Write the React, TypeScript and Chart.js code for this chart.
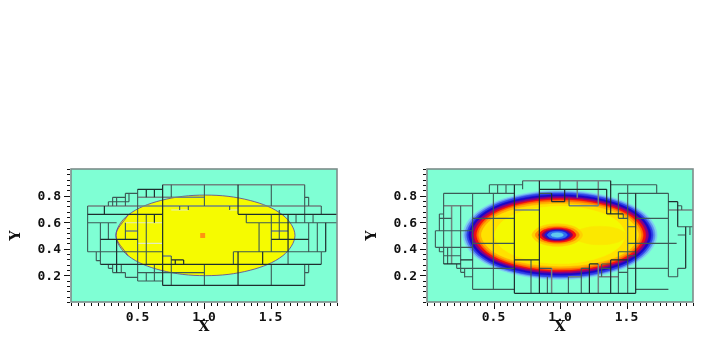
import React, { useEffect, useRef } from "react";
import { Chart, registerables } from "chart.js";

Chart.register(...registerables);

// Horizontal cell edges are [y, x0, x1]; vertical ones are [x, y0, y1].
const leftDarkH = [[.847,.501,.689],[.659,.125,.689],[.659,1.256,2],[.471,.221,.501],[.283,.221,1.882],[.125,.689,1.757],[.471,1.506,1.787],[.316,.754,.847]];
const leftDarkV = [[.689,.882,.125],[.566,.847,.787],[.627,.847,.787],[1.256,.882,.659],[1.256,.378,.125],[.343,.471,.221],[.251,.722,.659],[.627,.659,.596],[1.915,.596,.378],[1.632,.659,.378],[1.441,.378,.283],[.784,.316,.283],[.847,.316,.283]];
const leftMidH = [[.817,.409,.501],[.787,.313,.409],[.754,.281,.436],[.596,.125,.343],[.596,1.318,2],[.378,.125,.689],[.378,1.221,1.915],[.311,.19,.221],[.253,.281,.313],[.221,.313,.409],[.185,.409,.501],[.221,.501,1.003],[.158,.501,.689],[.221,1.757,1.787],[.787,1.757,1.787]];
const leftMidV = [[.754,.882,.787],[.754,.346,.125],[1.003,.882,.722],[1.003,.283,.125],[1.506,.882,.722],[1.506,.659,.378],[1.506,.283,.125],[1.757,.882,.722],[1.757,.283,.125],[1.757,.722,.596],[.501,.847,.283],[.501,.283,.158],[.409,.817,.722],[.436,.817,.754],[.313,.787,.722],[.343,.787,.722],[.281,.754,.722],[.125,.722,.378],[.221,.596,.283],[.281,.596,.471],[.409,.596,.471],[.566,.659,.283],[.566,.221,.158],[.627,.283,.158],[.19,.378,.311],[.378,.283,.221],[.313,.283,.221],[.281,.283,.253],[.409,.221,.185],[.817,.722,.692],[.882,.722,.692],[1.193,.722,.692],[1.318,.659,.596],[1.414,.596,.378],[1.566,.692,.471],[1.692,.659,.596],[1.82,.659,.596],[1.787,.596,.378],[1.852,.596,.378],[1.221,.378,.283],[1.632,.378,.283],[1.882,.722,.659],[1.882,.378,.283],[1.787,.787,.722],[1.787,.283,.221]];
const leftGrayH = [[.882,.689,1.757],[.722,.125,1.882],[.787,.501,1.003],[.534,.409,.501],[.534,1.506,1.632],[.346,.689,.754]];
const leftGrayV = [];
const leftPaleH = [[.692,.754,.882],[.692,1.193,1.256],[.596,.409,.689],[.441,.501,.689]];
const leftPaleV = [];

const rightDarkH = [[.065,.657,1.569],[.316,.657,.845],[.847,.845,1.351],[.754,.937,1.035],[.286,.125,.253],[.316,.253,.343],[.286,1.221,1.288],[.662,1.351,1.476],[.316,1.381,1.509],[.754,1.815,1.885]];
const rightDarkV = [[.657,.882,.065],[.845,.912,.065],[.937,.817,.754],[1.035,.847,.754],[1.351,.847,.662],[1.381,.912,.662],[1.569,.817,.065],[1.221,.286,.065],[1.381,.316,.065],[1.945,.566,.253],[1.885,.754,.566]];
const rightMidH = [[.882,.469,.719],[.882,1.381,1.727],[.817,.125,.657],[.817,1.439,1.815],[.817,.845,.937],[.662,.093,.125],[.629,.093,.185],[.629,.343,.657],[.629,1.569,1.815],[.536,.063,.343],[.411,.063,.343],[.441,.343,.657],[.441,1.509,1.877],[.378,.093,.125],[.348,.125,.253],[.253,.223,.657],[.223,.253,.283],[.19,.283,.343],[.095,.343,.657],[.253,.845,.937],[.253,1.16,1.221],[.286,1.313,1.381],[.253,1.313,1.381],[.223,1.439,1.509],[.378,1.439,1.569],[.348,1.509,1.569],[.253,1.509,1.815],[.095,1.569,1.815],[.19,1.815,1.885],[.253,1.885,1.945],[.724,1.885,1.915],[.566,1.885,2],[.504,1.885,1.94],[.629,1.439,1.509],[.566,1.509,1.569]];
const rightMidV = [[.469,.882,.817],[.531,.882,.817],[.594,.882,.817],[.719,.912,.847],[.125,.817,.286],[.093,.662,.536],[.155,.411,.286],[.253,.724,.223],[.063,.536,.411],[.093,.411,.378],[.223,.286,.253],[.283,.253,.185],[.343,.817,.095],[.499,.817,.095],[.782,.316,.065],[.905,.19,.065],[1.063,.19,.065],[1.16,.253,.065],[1.313,.286,.19],[1.439,.378,.065],[1.439,.817,.629],[1.509,.882,.065],[1.727,.882,.817],[1.815,.817,.19],[1.885,.253,.19],[1.068,.784,.724],[1,.912,.847],[1.915,.724,.692],[1.977,.566,.504],[1.476,.662,.629]];
const rightGrayH = [[.912,.719,1.381],[.724,.125,.343],[.724,1.068,1.288],[.692,.657,.845],[.692,1.815,2],[.19,1.288,1.439],[.19,1.063,1.16]];
const rightGrayV = [[.185,.724,.286],[.937,.253,.065],[1.13,.912,.784],[1.288,.912,.724],[1.288,.286,.065]];
const rightPaleH = [];
const rightPaleV = [];

const leftOutlineX = [.338,.428,.674,1.011,1.348,1.594,1.684,1.594,1.348,1.011,.674,.428,.338];
const leftOutlineY = [.501,.653,.763,.804,.763,.653,.501,.349,.239,.198,.239,.349,.501];
const leftSpotX = [.99];
const leftSpotY = [.5];

const contourColors = ["#7fd0f0","#5f8ff0","#2f40e8","#1808c8","#8a0080","#f01010","#ff7000","#ffb000","#ffe200","#f4fa00","#fbe800","#ffd000","#ff9000","#f81010","#8a0060","#1818d8","#3070f0","#60c8f0"];
const contourX = [
  [.27,.368,.635,1,1.365,1.632,1.73,1.632,1.365,1,.635,.368,.27],
  [.285,.381,.642,1,1.358,1.619,1.715,1.619,1.358,1,.642,.381,.285],
  [.3,.394,.65,1,1.35,1.606,1.7,1.606,1.35,1,.65,.394,.3],
  [.315,.407,.657,1,1.343,1.593,1.685,1.593,1.343,1,.657,.407,.315],
  [.335,.424,.667,1,1.333,1.576,1.665,1.576,1.333,1,.667,.424,.335],
  [.355,.441,.677,1,1.323,1.559,1.645,1.559,1.323,1,.677,.441,.355],
  [.375,.459,.687,1,1.313,1.541,1.625,1.541,1.313,1,.687,.459,.375],
  [.39,.472,.695,1,1.305,1.528,1.61,1.528,1.305,1,.695,.472,.39],
  [.41,.489,.705,1,1.295,1.511,1.59,1.511,1.295,1,.705,.489,.41],
  [.51,.576,.755,1,1.245,1.424,1.49,1.424,1.245,1,.755,.576,.51],
  [1.1,1.159,1.3,1.441,1.5,1.441,1.3,1.159,1.1],
  [.79,.846,.98,1.114,1.17,1.114,.98,.846,.79],
  [.815,.863,.98,1.097,1.145,1.097,.98,.863,.815],
  [.84,.881,.98,1.079,1.12,1.079,.98,.881,.84],
  [.865,.899,.98,1.061,1.095,1.061,.98,.899,.865],
  [.885,.913,.98,1.047,1.075,1.047,.98,.913,.885],
  [.905,.927,.98,1.033,1.055,1.033,.98,.927,.905],
  [.935,.948,.98,1.012,1.025,1.012,.98,.948,.935],
];
const contourY = [
  [.504,.672,.794,.839,.794,.672,.504,.336,.214,.169,.214,.336,.504],
  [.504,.667,.785,.829,.785,.667,.504,.341,.223,.179,.223,.341,.504],
  [.504,.662,.778,.82,.778,.662,.504,.346,.23,.188,.23,.346,.504],
  [.504,.656,.766,.807,.766,.656,.504,.352,.242,.201,.242,.352,.504],
  [.504,.648,.753,.792,.753,.648,.504,.36,.255,.216,.255,.36,.504],
  [.504,.641,.741,.778,.741,.641,.504,.367,.267,.23,.267,.367,.504],
  [.504,.635,.731,.766,.731,.635,.504,.373,.277,.242,.277,.373,.504],
  [.504,.629,.721,.754,.721,.629,.504,.379,.287,.254,.287,.379,.504],
  [.504,.622,.708,.739,.708,.622,.504,.386,.3,.269,.3,.386,.504],
  [.504,.612,.69,.719,.69,.612,.504,.396,.318,.289,.318,.396,.504],
  [.5,.549,.57,.549,.5,.451,.43,.451,.5],
  [.504,.564,.589,.564,.504,.444,.419,.444,.504],
  [.504,.552,.572,.552,.504,.456,.436,.456,.504],
  [.504,.543,.559,.543,.504,.465,.449,.465,.504],
  [.504,.536,.549,.536,.504,.472,.459,.472,.504],
  [.504,.53,.541,.53,.504,.478,.467,.478,.504],
  [.504,.524,.532,.524,.504,.484,.476,.484,.504],
  [.504,.516,.521,.516,.504,.492,.487,.492,.504],
];

const xLabelled = [0.5, 1.0, 1.5];
const yLabelled = [0.2, 0.4, 0.6, 0.8];
const xAxisTitle = "X";
const yAxisTitle = "Y";

const FIELD = "#7fffd4";
const TICK_FONT = { family: "'DejaVu Sans Mono'", size: 13, weight: "bold" as const };
const TITLE_FONT = { family: "'DejaVu Serif'", size: 14, weight: "bold" as const };

function edges(h: number[][], v: number[][]) {
  const pts: { x: number; y: number }[] = [];
  const gap = { x: NaN, y: NaN };
  h.forEach(([y, a, b]) => pts.push({ x: a, y }, { x: b, y }, gap));
  v.forEach(([x, a, b]) => pts.push({ x, y: a }, { x, y: b }, gap));
  return pts;
}

function edgeSet(h: number[][], v: number[][], color: string, width: number) {
  return {
    data: edges(h, v), showLine: true, borderColor: color, borderWidth: width,
    pointRadius: 0, fill: false, tension: 0, order: 0,
  };
}

function outline(xs: number[], ys: number[], color: string, order: number, border?: string) {
  // The loop overlaps itself by one point at each end so the spline has no kink at the join.
  const n = xs.length;
  const px = [xs[n - 2], ...xs, xs[1]];
  const py = [ys[n - 2], ...ys, ys[1]];
  return {
    data: px.map((x, i) => ({ x, y: py[i] })), showLine: true, fill: "shape", backgroundColor: color,
    borderColor: border ?? color, borderWidth: border ? 0.8 : 0.5, pointRadius: 0, tension: 0.35, order,
  };
}

const framePlugin = {
  id: "frame",
  beforeDatasetsDraw(chart: any) {
    const { ctx, chartArea: a } = chart;
    ctx.save();
    ctx.fillStyle = FIELD;
    ctx.fillRect(a.left, a.top, a.right - a.left, a.bottom - a.top);
    ctx.restore();
  },
  afterDraw(chart: any) {
    const { ctx, chartArea: a, scales } = chart;
    ctx.save();
    ctx.strokeStyle = "#7d8d8a";
    ctx.lineWidth = 1.6;
    ctx.strokeRect(a.left, a.top, a.right - a.left, a.bottom - a.top);
    ctx.strokeStyle = "#111";
    ctx.lineWidth = 1;
    ctx.beginPath();
    scales.x.ticks.forEach((t: any) => {
      const p = Math.round(scales.x.getPixelForValue(t.value)) + 0.5;
      const major = xLabelled.some((v) => Math.abs(v - t.value) < 1e-6);
      ctx.moveTo(p, a.bottom + 1);
      ctx.lineTo(p, a.bottom + (major ? 7 : 4));
    });
    scales.y.ticks.forEach((t: any) => {
      const p = Math.round(scales.y.getPixelForValue(t.value)) + 0.5;
      const major = yLabelled.some((v) => Math.abs(v - t.value) < 1e-6);
      ctx.moveTo(a.left - 1, p);
      ctx.lineTo(a.left - (major ? 7 : 4), p);
    });
    ctx.stroke();
    ctx.restore();
  },
};

function options() {
  return {
    responsive: false,
    animation: false as const,
    layout: { padding: { top: 169, right: 18, left: 8, bottom: 20 } },
    plugins: { legend: { display: false }, tooltip: { enabled: false } },
    scales: {
      x: {
        type: "linear" as const, min: 0, max: 2,
        grid: { display: false, drawTicks: false }, border: { display: false },
        afterFit: (s: any) => { s.height = 34; },
        title: { display: true, text: xAxisTitle, color: "#111", font: TITLE_FONT, padding: 0 },
        ticks: {
          stepSize: 0.05, autoSkip: false, maxRotation: 0, padding: 8, color: "#111", font: TICK_FONT,
          callback: (v: number) => (xLabelled.some((l) => Math.abs(l - v) < 1e-6) ? v.toFixed(1) : ""),
        },
      },
      y: {
        type: "linear" as const, min: 0, max: 1,
        grid: { display: false, drawTicks: false }, border: { display: false },
        afterFit: (s: any) => { s.width = 63; },
        title: { display: true, text: yAxisTitle, color: "#111", font: TITLE_FONT, padding: 0 },
        ticks: {
          stepSize: 0.04, autoSkip: false, padding: 10, labelOffset: 1, color: "#111", font: TICK_FONT,
          callback: (v: number) => (yLabelled.some((l) => Math.abs(l - v) < 1e-6) ? v.toFixed(1) : ""),
        },
      },
    },
  };
}

function Panel({ left, datasets }: { left: number; datasets: any[] }) {
  const ref = useRef<HTMLCanvasElement>(null);
  useEffect(() => {
    const chart = new Chart(ref.current as HTMLCanvasElement, {
      type: "scatter",
      data: { datasets },
      options: options() as any,
      plugins: [framePlugin],
    });
    return () => chart.destroy();
  }, []);
  return (
    <canvas ref={ref} width={355} height={356}
      style={{ position: "fixed", left, top: 0, width: 355, height: 356, display: "block" }} />
  );
}

const leftSets = [
  edgeSet(leftDarkH, leftDarkV, "#1e2e2e", 1.2),
  edgeSet(leftMidH, leftMidV, "#3c5a56", 1.1),
  edgeSet(leftGrayH, leftGrayV, "#6f8480", 1.5),
  edgeSet(leftPaleH, leftPaleV, "#e4ecc0", 1.1),
  {
    data: leftSpotX.map((x, i) => ({ x, y: leftSpotY[i] })), pointStyle: "rect", pointRadius: 3.5,
    backgroundColor: "#ff9410", borderWidth: 0, order: 1,
  },
  outline(leftOutlineX, leftOutlineY, "#f6fb00", 2, "#5a3a9a"),
];

const rightSets = [
  edgeSet(rightDarkH, rightDarkV, "#1e2e2e", 1.2),
  edgeSet(rightMidH, rightMidV, "#3c5a56", 1.1),
  edgeSet(rightGrayH, rightGrayV, "#6f8480", 1.5),
  edgeSet(rightPaleH, rightPaleV, "#e4ecc0", 1.1),
  ...contourColors.map((c, i) => outline(contourX[i], contourY[i], c, 100 - i)),
];

export default function App() {
  return (
    <div style={{ position: "relative", width: 711, height: 356 }}>
      <Panel left={0} datasets={leftSets} />
      <Panel left={356} datasets={rightSets} />
    </div>
  );
}
